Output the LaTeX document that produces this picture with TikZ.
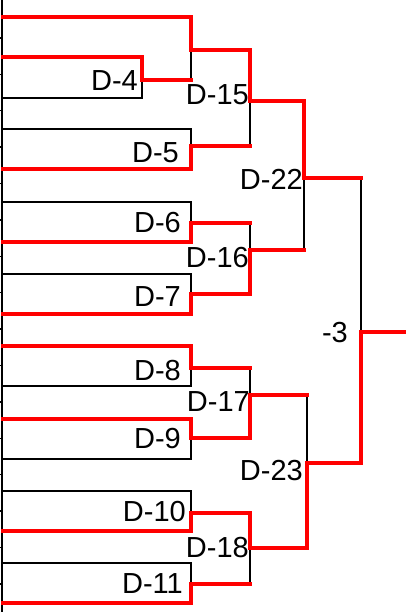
\documentclass[tikz,border=0pt]{standalone}
\usepackage{fontspec}
\setmainfont{Liberation Sans}
\usepackage{tikz}
\usetikzlibrary{calc}
\tikzset{%
    my win/.style={draw=red, line width=4pt, line cap=rect},
    my loss/.style={draw=black, line width=1.6pt},
    my axis/.style={draw=black, line width=2.5pt},
    my tick/.style={draw=black, line width=1.5pt},
    my label/.style={%
        anchor=base east,
        inner sep=0pt,
        font=\fontsize{29}{29}\selectfont
    }%
}

\begin{document}
\begin{tikzpicture}[x=1pt, y=-1pt]
\useasboundingbox (0,0) rectangle (406,612);
\draw[my axis] (2,0) -- (2,612);
\foreach \k in {1,...,16}
    \draw[my tick] (-3,{1.5+36.4*\k}) -- (2,{1.5+36.4*\k});

\foreach \y [count=\i] in {17,57,98,129,169,202,242,274,314,346,386,419,459,491,531,563,603}
    \coordinate (a\i) at (3,\y);

\coordinate (j4) at (142,80);
\coordinate (jb) at (191,50);
\coordinate (j5) at (191,146);
\coordinate (j6) at (191,223);
\coordinate (j7) at (191,294);
\coordinate (j8) at (191,368);
\coordinate (j9) at (191,438);
\coordinate (j10) at (191,513);
\coordinate (j11) at (191,584);
\coordinate (j15) at (250,101);
\coordinate (j16) at (250,250);
\coordinate (j17) at (250,395);
\coordinate (j18) at (250,548);
\coordinate (j22) at (304,178);
\coordinate (j23) at (307,463);
\coordinate (j3) at (361,332);
\coordinate (end) at (410,332);

\draw[my loss]
    (a3) -| (j4)  (a4) -| (j5)  (a6) -| (j6)  (a8) -| (j7)
    (a11) -| (j8)  (a13) -| (j9)  (a14) -| (j10)  (a16) -| (j11)
    (j4 -| jb) -- (jb)
    (j5 -| j15) -- (j15)
    (j6 -| j16) -- (j16)
    (j8 -| j17) -- (j17)
    (j11 -| j18) -- (j18)
    (j16 -| j22) -- (j22)
    (j17 -| j23) -- (j23)
    (j22 -| j3) -- (j3);

\draw[my win]
    (a1) -| (jb)  (a2) -| (j4)  (a5) -| (j5)  (a7) -| (j6)  (a9) -| (j7)
    (a10) -| (j8)  (a12) -| (j9)  (a15) -| (j10)  (a17) -| (j11)
    (j4) -- (j4 -| jb)
    (jb) -| (j15)
    (j5) -- (j5 -| j15)
    (j6) -- (j6 -| j16)
    (j7) -| (j16)
    (j8) -- (j8 -| j17)
    (j9) -| (j17)
    (j10) -| (j18)
    (j11) -- (j11 -| j18)
    (j15) -| (j22)
    (j16) -- (j16 -| j22)
    (j17) -- (j17 -| j23)
    (j18) -| (j23)
    (j22) -- (j22 -| j3)
    (j23) -| (j3)
    (j3) -- (end);

\node[my label] (l4) at (138,91) {D-4};
\node[my label] (l5) at (179,163) {D-5};
\node[my label] (l6) at (181,233) {D-6};
\node[my label] (l7) at (181,306) {D-7};
\node[my label] (l8) at (181,380) {D-8};
\node[my label] (l9) at (181,448) {D-9};
\node[my label] (l10) at (186,521) {D-10};
\node[my label] (l11) at (183,593) {D-11};
\node[my label] (l15) at (249,105) {D-15};
\node[my label] (l16) at (249,267) {D-16};
\node[my label] (l17) at (250,411) {D-17};
\node[my label] (l18) at (249,557) {D-18};
\node[my label] (l22) at (303,190) {D-22};
\node[my label] (l23) at (303,480) {D-23};
\node[my label] (l3) at (348,342) {-3};
\end{tikzpicture}
\end{document}
